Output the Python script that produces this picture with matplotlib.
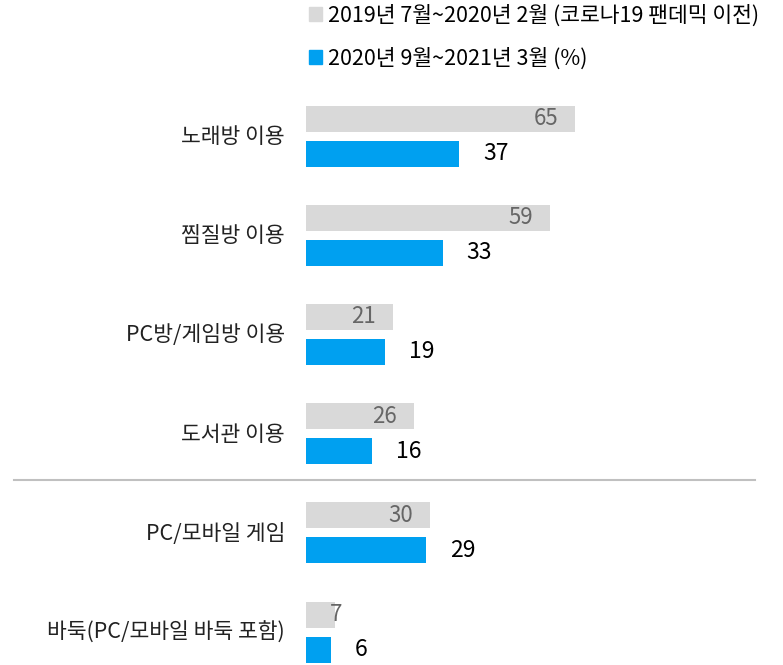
import matplotlib
matplotlib.use("Agg")
import matplotlib.pyplot as plt
from matplotlib.patches import Patch
import numpy as np

plt.rcParams['font.family'] = ['Noto Sans CJK KR', 'DejaVu Sans']

categories = ["노래방 이용", "찜질방 이용", "PC방/게임방 이용", "도서관 이용",
              "PC/모바일 게임", "바둑(PC/모바일 바둑 포함)"]
before = [65, 59, 21, 26, 30, 7]
after = [37, 33, 19, 16, 29, 6]
legend_labels = ["2019년 7월~2020년 2월 (코로나19 팬데믹 이전)",
                 "2020년 9월~2021년 3월 (%)"]

gray = "#d9d9d9"
blue = "#00a0f0"

W, H = 783, 665
fig = plt.figure(figsize=(W / 100, H / 100), dpi=100)

# axes: x=0 at pixel 306, 4.14 px per unit; group i centre at pixel 136 + 99.2*i
px_unit = 4.14
x0 = 306
ax = fig.add_axes([x0 / W, 0, 1 - x0 / W, 1])
ax.set_xlim(0, (W - x0) / px_unit)
gap = 99.2
ax.set_ylim((H - 136) / gap, -136 / gap)
ax.axis("off")

y = np.arange(len(categories))
off = 17.5 / gap
h = 26 / gap
ax.barh(y - off, before, height=h, color=gray)
ax.barh(y + off, after, height=h, color=blue)

for i in range(len(categories)):
    xr = max(before[i] - 17 / px_unit, 36 / px_unit)
    ax.text(xr, y[i] - off, str(before[i]), ha="right", va="center",
            fontsize=16, color="#666666")
    ax.annotate(str(after[i]), (after[i], y[i] + off), xytext=(17.3, 0),
                textcoords="offset points", ha="left", va="center",
                fontsize=16.5, color="black")
    fig.text(285 / W, 1 - (137 + gap * i) / H, categories[i], ha="right",
             va="center", fontsize=15.5, color="#222222")

# separator between groups
fig.add_artist(plt.Line2D([14 / W, 755 / W], [1 - 480 / H, 1 - 480 / H],
                          color="#c0c0c0", lw=1.5))

handles = [Patch(color=gray), Patch(color=blue)]
fig.legend(handles, legend_labels, loc="upper left",
           bbox_to_anchor=(300 / W, 1 + 4 / H), frameon=False, fontsize=15.5,
           handlelength=0.6, handleheight=0.6, handletextpad=0.3,
           labelspacing=0.95, borderaxespad=0)

fig.savefig("out.png", dpi=100)
